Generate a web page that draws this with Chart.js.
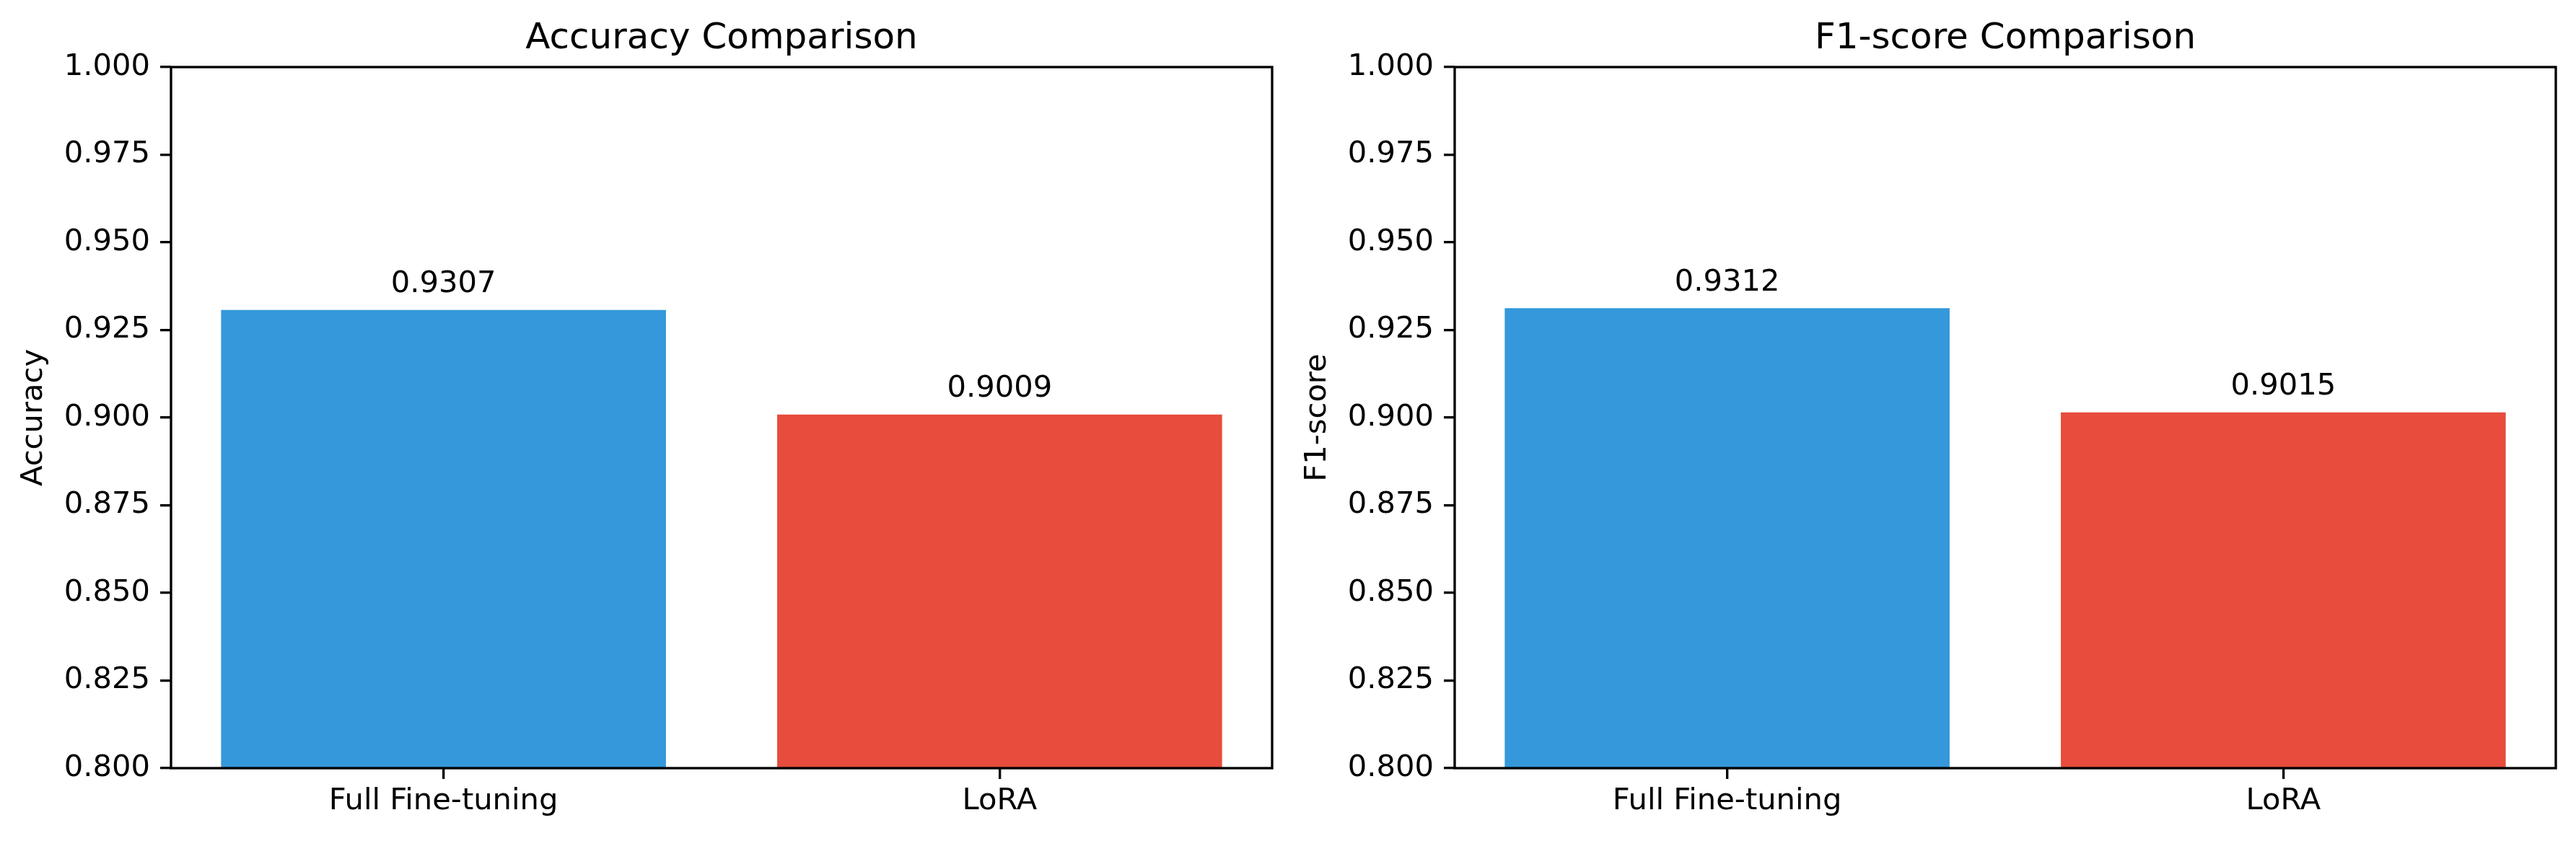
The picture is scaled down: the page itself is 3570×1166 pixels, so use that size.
<!DOCTYPE html>
<html>
<head>
<meta charset="utf-8">
<script src="https://cdn.jsdelivr.net/npm/chart.js@4.4.0/dist/chart.umd.min.js"></script>
<style>
  html, body { margin: 0; padding: 0; background: #ffffff; }
  body { width: 3570px; height: 1166px; position: relative; overflow: hidden; }
  canvas { position: absolute; top: 0; }
</style>
</head>
<body>
<canvas id="c1" width="1779" height="1166" style="left:0px"></canvas>
<canvas id="c2" width="1791" height="1166" style="left:1779px"></canvas>
<script>
// ---- data ----
const categories = ["Full Fine-tuning", "LoRA"];
const accuracyValues = [0.9307, 0.9009];
const f1Values = [0.9312, 0.9015];
const barColors = ["#3498db", "#e74c3c"];
const yTickMin = 0.8;
const yTickMax = 1.0;
const yTickStep = 0.025;

const FONT = "'DejaVu Sans', sans-serif";
const PT = 300 / 72;
const LW = 0.8 * PT;

const boxPlugin = {
  id: 'boxPlugin',
  afterDraw(chart) {
    const { ctx, chartArea: a } = chart;
    ctx.save();
    ctx.strokeStyle = '#000';
    ctx.lineWidth = LW;
    ctx.lineJoin = 'miter';
    ctx.strokeRect(a.left, a.top, a.right - a.left, a.bottom - a.top);
    ctx.restore();
  }
};

const valueLabelPlugin = {
  id: 'valueLabelPlugin',
  afterDatasetsDraw(chart) {
    const { ctx } = chart;
    const meta = chart.getDatasetMeta(0);
    const ds = chart.data.datasets[0];
    const yScale = chart.scales.y;
    ctx.save();
    ctx.fillStyle = '#000';
    ctx.font = (10 * PT) + "px " + FONT;
    ctx.textAlign = 'center';
    ctx.textBaseline = 'alphabetic';
    meta.data.forEach((bar, i) => {
      const v = ds.data[i].y;
      const y = yScale.getPixelForValue(v + 0.005);
      ctx.fillText(v.toFixed(4), bar.x, y);
    });
    ctx.restore();
  }
};

function makeChart(id, values, title, ylabel, padRight) {
  const data = values.map((v, i) => ({ x: i, y: v }));
  return new Chart(document.getElementById(id), {
    type: 'bar',
    data: {
      datasets: [{
        data: data,
        backgroundColor: barColors,
        borderWidth: 0,
        barPercentage: 0.8,
        categoryPercentage: 1.0
      }]
    },
    options: {
      responsive: false,
      animation: false,
      devicePixelRatio: 1,
      layout: { padding: { left: 0, right: padRight, top: 0, bottom: 0 } },
      plugins: {
        legend: { display: false },
        tooltip: { enabled: false },
        title: {
          display: true,
          fullSize: false,
          text: title,
          color: '#000',
          font: { family: FONT, size: 12 * PT, weight: 'normal', lineHeight: 1.2 },
          padding: { top: 24, bottom: 9 }
        }
      },
      scales: {
        x: {
          type: 'linear',
          min: -0.49,
          max: 1.49,
          offset: false,
          afterBuildTicks: (scale) => { scale.ticks = categories.map((c, i) => ({ value: i })); },
          afterFit: (scale) => { scale.height = 101; },
          ticks: {
            color: '#000',
            font: { family: FONT, size: 10 * PT },
            padding: 6,
            maxRotation: 0,
            autoSkip: false,
            callback: (v) => categories[v] !== undefined ? categories[v] : ''
          },
          grid: { display: true, offset: false, drawOnChartArea: false, drawTicks: true, tickLength: 15, color: '#000', lineWidth: LW },
          border: { display: false }
        },
        y: {
          type: 'linear',
          min: yTickMin,
          max: yTickMax,
          afterFit: (scale) => { scale.width = 237; },
          ticks: {
            stepSize: yTickStep,
            color: '#000',
            font: { family: FONT, size: 10 * PT },
            padding: 14,
            callback: (v) => Number(v).toFixed(3)
          },
          grid: { display: true, offset: false, drawOnChartArea: false, drawTicks: true, tickLength: 15, color: '#000', lineWidth: LW },
          border: { display: false },
          title: {
            display: true,
            text: ylabel,
            color: '#000',
            font: { family: FONT, size: 10 * PT, lineHeight: 1.2 },
            padding: { top: 22, bottom: 0 }
          }
        }
      }
    },
    plugins: [valueLabelPlugin, boxPlugin]
  });
}

makeChart('c1', accuracyValues, 'Accuracy Comparison', 'Accuracy', 16);
makeChart('c2', f1Values, 'F1-score Comparison', 'F1-score', 28);
</script>
</body>
</html>
